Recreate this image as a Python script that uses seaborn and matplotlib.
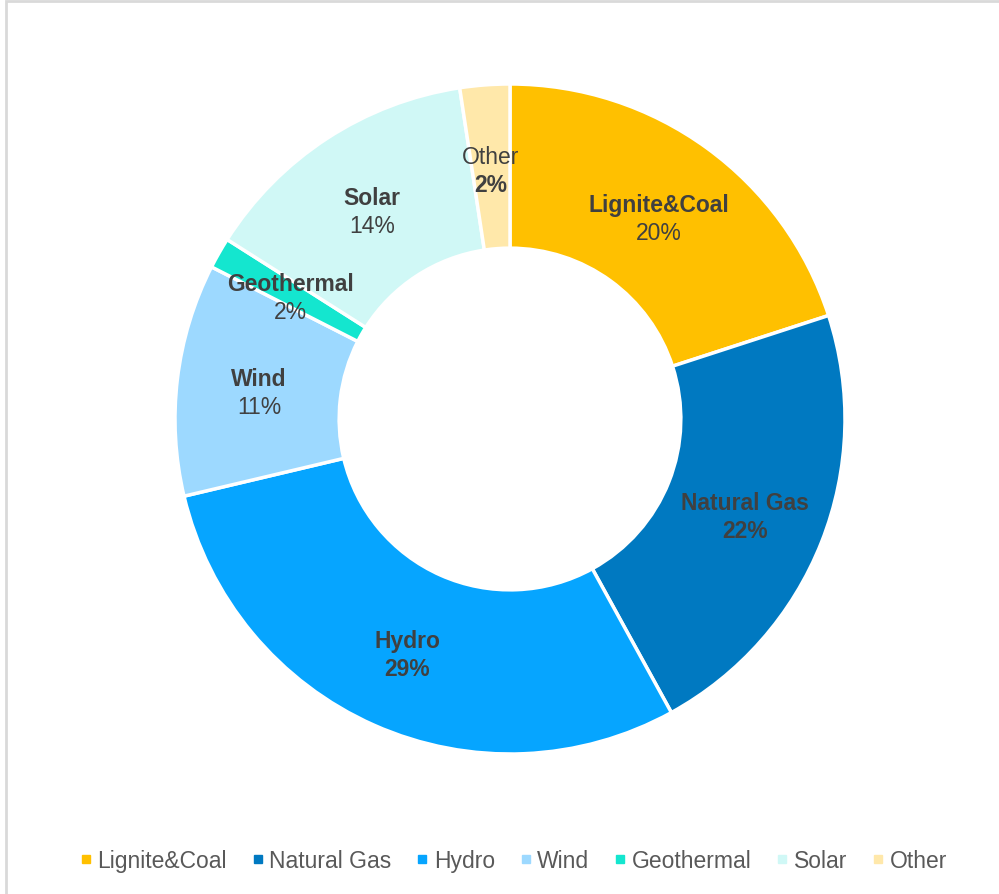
import matplotlib
matplotlib.use("Agg")
import matplotlib.pyplot as plt
import seaborn as sns
import numpy as np
from matplotlib.lines import Line2D
from matplotlib.patches import Rectangle

categories = ["Lignite&Coal", "Natural Gas", "Hydro", "Wind", "Geothermal", "Solar", "Other"]
values = [20.0, 22.0, 29.3, 11.2, 1.5, 13.6, 2.4]
colors = ["#FFC000", "#0079C1", "#06A5FF", "#9DD9FF", "#14E6CF", "#D0F8F6", "#FFE8AA"]
name_bold = [True, True, True, True, True, True, False]
pct_bold = [False, True, True, False, False, False, True]

sns.set_theme(style="white")
plt.rcParams['font.family'] = ['Liberation Sans', 'DejaVu Sans']

W, H = 999, 895
fig = plt.figure(figsize=(W / 100, H / 100), dpi=100)
fig.patch.set_facecolor("white")
fig.patches.append(Rectangle((6 / W, -0.1), 1.2, 1 - 2 / H + 0.1, transform=fig.transFigure,
                             fill=False, edgecolor="#D9D9D9", linewidth=2))

cx, cy, R = 510, H - 420, 335
ax = fig.add_axes([(cx - R) / W, (cy - R) / H, 2 * R / W, 2 * R / H])
palette = sns.color_palette(colors)
wedges, _ = ax.pie(values, colors=palette, startangle=90, counterclock=False, radius=1,
                   wedgeprops=dict(width=0.49, edgecolor="white", linewidth=2.5))
ax.set_xlim(-1, 1)
ax.set_ylim(-1, 1)
ax.set_aspect("equal")
ax.axis("off")

rmid = 1 - 0.49 / 2
dy = 14 / R
for w, name, v, nb, pb in zip(wedges, categories, values, name_bold, pct_bold):
    ang = np.deg2rad((w.theta1 + w.theta2) / 2)
    x, y = rmid * np.cos(ang), rmid * np.sin(ang) - 4 / R
    ax.text(x, y + dy, name, ha="center", va="center", fontsize=16.5, color="#404040",
            fontweight="bold" if nb else "normal")
    ax.text(x, y - dy, f"{v:.0f}%", ha="center", va="center", fontsize=16.5, color="#404040",
            fontweight="bold" if pb else "normal")

handles = [Line2D([0], [0], marker="s", linestyle="none", markersize=6,
                  markerfacecolor=c, markeredgecolor=c) for c in palette]
fig.legend(handles, categories, loc="center", bbox_to_anchor=(513 / W, 1 - 862 / H),
           ncol=len(categories), frameon=False, fontsize=16.5, handletextpad=0.2,
           columnspacing=1.05, handlelength=0.6, labelcolor="#595959")

fig.savefig("out.png", dpi=100)
